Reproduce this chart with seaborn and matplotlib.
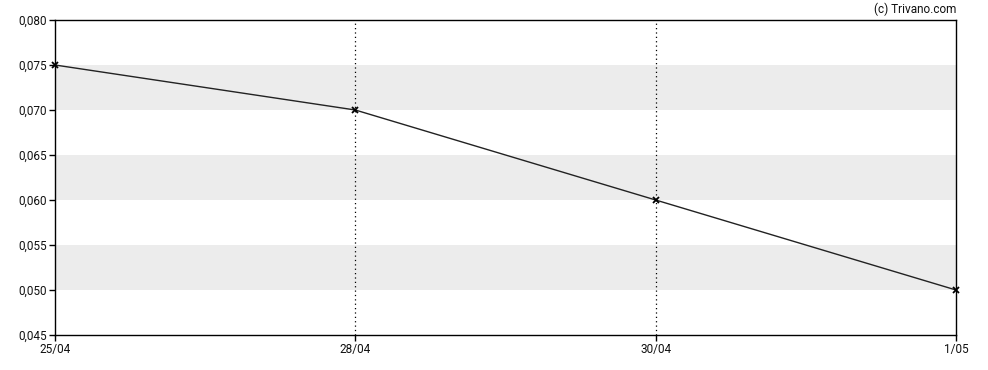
import matplotlib
matplotlib.use("Agg")
import matplotlib.pyplot as plt
import seaborn as sns
import pandas as pd

dates = ["25/04", "28/04", "30/04", "1/05"]
prices = [0.075, 0.070, 0.060, 0.050]
yticks = [0.045, 0.050, 0.055, 0.060, 0.065, 0.070, 0.075, 0.080]
bands = [(0.050, 0.055), (0.060, 0.065), (0.070, 0.075)]

df = pd.DataFrame({"pos": range(len(dates)), "price": prices})

sns.set_style("white")
plt.rcParams['font.family'] = ['Roboto', 'DejaVu Sans']

fig = plt.figure(figsize=(9.88, 3.7), dpi=100)
ax = fig.add_axes([55 / 988, 1 - 335 / 370, 901 / 988, 315 / 370])

for lo, hi in bands:
    ax.axhspan(lo, hi, color="#ececec", lw=0, zorder=0)

for x in [1, 2]:
    ax.axvline(x, color="black", lw=0.9, ls=(0, (1, 2.5)), zorder=1)

sns.lineplot(data=df, x="pos", y="price", color="#222222", lw=1,
             marker="x", markersize=4, markeredgewidth=1.3,
             markeredgecolor="black", ax=ax, zorder=3, clip_on=False)

ax.set_xlim(0, len(dates) - 1)
ax.set_ylim(0.045, 0.080)
ax.set_xticks(range(len(dates)))
ax.set_xticklabels(dates)
ax.set_yticks(yticks)
ax.set_yticklabels([f"{v:.3f}".replace(".", ",") for v in yticks])
ax.set_xlabel("")
ax.set_ylabel("")

for s in ax.spines.values():
    s.set_color("black")
    s.set_linewidth(1)
ax.tick_params(axis="both", length=4, width=1, color="black",
               labelsize=8.5, labelcolor="#111111", pad=2, direction="out",
               bottom=True, left=True)

fig.text(956 / 988, 1 - 9 / 370, "(c) Trivano.com", ha="right", va="center",
         fontsize=8.5, color="#111111")

fig.savefig("out.png", dpi=100)
